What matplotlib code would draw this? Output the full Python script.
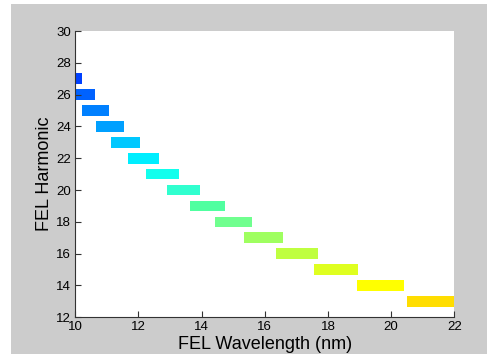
import matplotlib.pyplot as plt
from matplotlib.patches import Rectangle

# datos
armonicos = [27, 26, 25, 24, 23, 22, 21, 20, 19, 18, 17, 16, 15, 14, 13]
inicio = [9.45, 10.0, 10.20, 10.64, 11.14, 11.67, 12.24, 12.90, 13.62, 14.42, 15.34, 16.36, 17.56, 18.91, 20.51]
fin = [10.20, 10.62, 11.06, 11.53, 12.06, 12.64, 13.27, 13.96, 14.74, 15.59, 16.59, 17.69, 18.96, 20.41, 22.0]
colores = ['#0040ff', '#0062ff', '#0080ff', '#00a0ff', '#00c8ff', '#00eeff', '#12ffed',
           '#30ffcf', '#50ffa0', '#70ff8f', '#9fff60', '#bfff40', '#dfff20', '#ffff00', '#ffdd00']

plt.rcParams['font.family'] = ['Liberation Sans', 'DejaVu Sans']

fig = plt.figure(figsize=(4.87, 3.54), dpi=100)
fig.patch.set_facecolor('white')
fig.add_artist(Rectangle((11 / 487, 0), 476 / 487, 350 / 354, transform=fig.transFigure,
                         facecolor='#cccccc', edgecolor='none', zorder=-1))

ax = fig.add_axes([0.1546, 0.1037, 0.7783, 0.8087])
ax.set_facecolor('white')

anchos = [f - i for i, f in zip(inicio, fin)]
ax.barh(armonicos, anchos, left=inicio, height=0.67, color=colores, edgecolor='none')

ax.set_xlim(10, 22)
ax.set_ylim(12, 30)
ax.set_xticks(range(10, 23, 2))
ax.set_yticks(range(12, 31, 2))

ax.spines['top'].set_visible(False)
ax.spines['right'].set_visible(False)
ax.spines['left'].set_color('#333333')
ax.spines['bottom'].set_color('#333333')
ax.tick_params(direction='in', length=4, width=0.8, color='#333333', labelsize=9.5, pad=3)

ax.set_xlabel('FEL Wavelength (nm)', fontsize=13, labelpad=2)
ax.set_ylabel('FEL Harmonic', fontsize=13, labelpad=2)

fig.savefig('out.png', dpi=100)
